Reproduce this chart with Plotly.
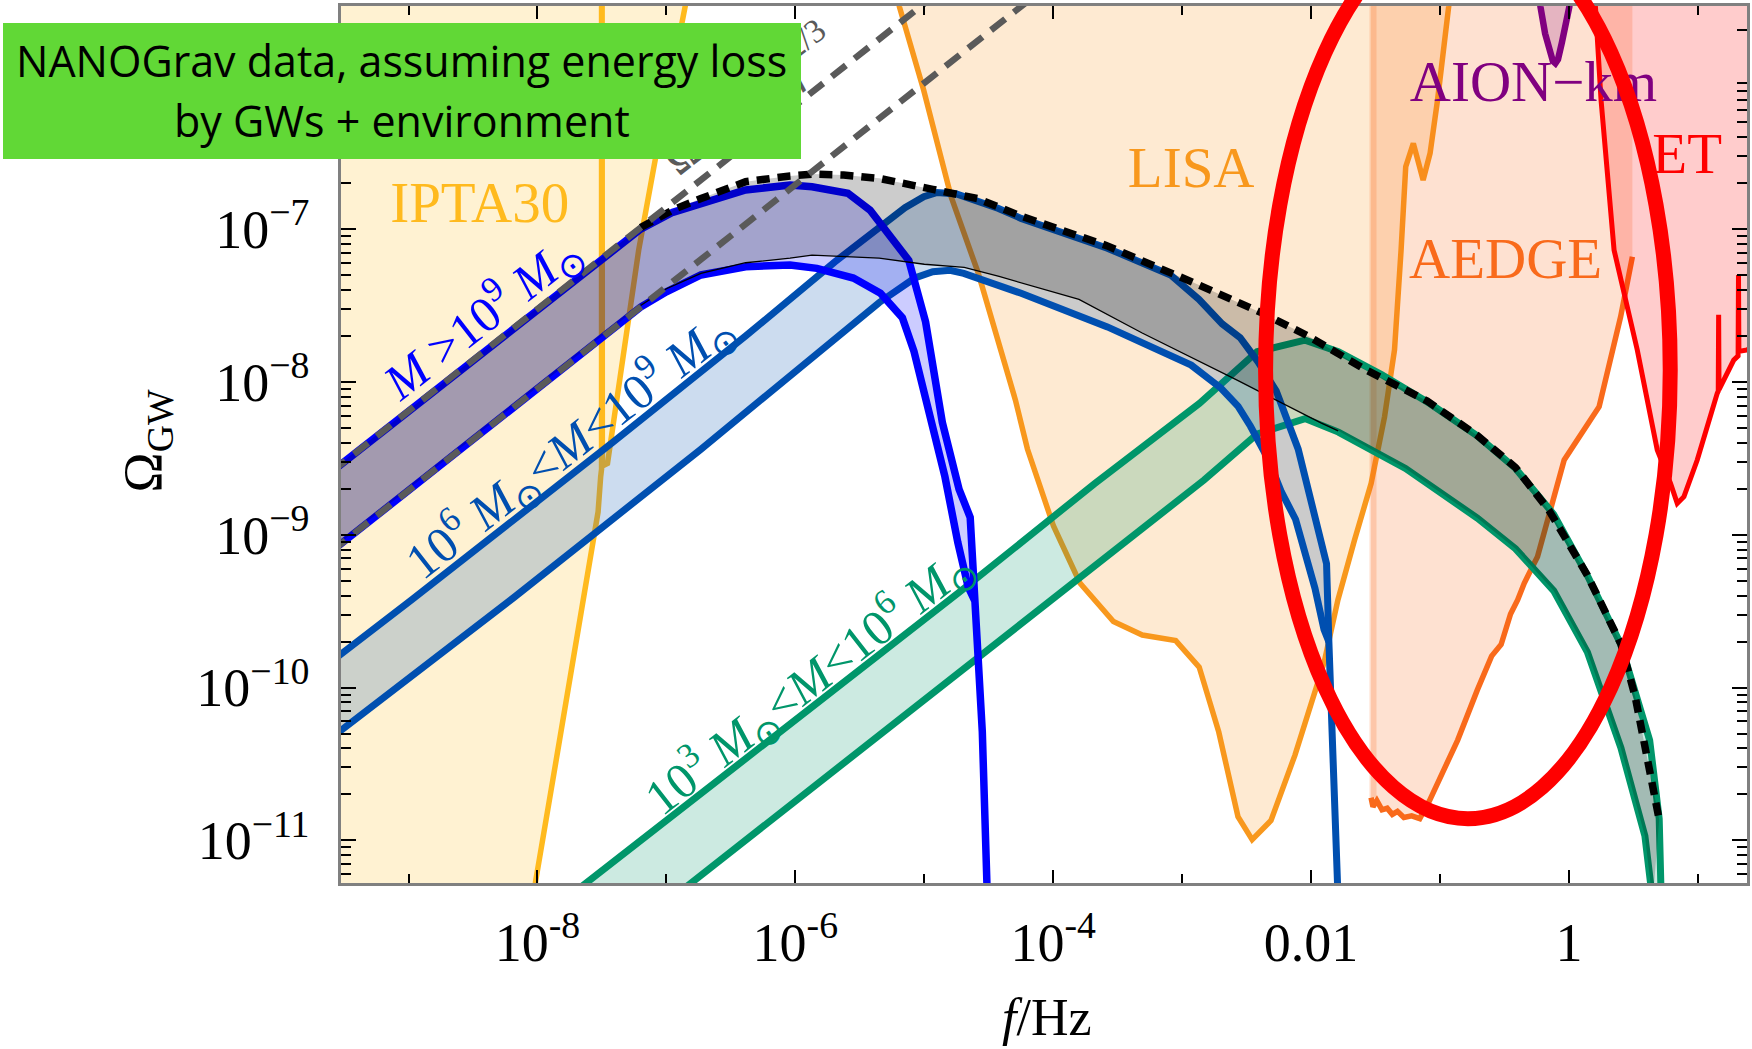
import numpy as np
import plotly.graph_objects as go

# All curves are stored as (log10 f/Hz, log10 Omega_GW) pairs.

# ---- detector sensitivity curves ----
ipta_logf = [-8.03, -8.015, -7.85, -7.65, -7.53, -7.51, -7.503, -7.503, -7.499, -7.497,
             -7.457, -7.215, -7.077, -6.854, -6.80]
ipta_logO = [-11.45, -11.27, -10.45, -9.43, -8.85, -8.62, -8.57, -5.0, -5.0, -8.55,
             -8.533, -7.137, -6.50, -5.54, -5.20]

lisa_logf = [-5.22, -5.193, -5.005, -4.792, -4.582, -4.293, -4.200, -3.998, -3.793, -3.533,
             -3.309, -3.050, -2.868, -2.716, -2.567, -2.457, -2.311, -2.125, -1.900, -1.792,
             -1.663, -1.534, -1.430, -1.353, -1.302, -1.266, -1.207, -1.131, -1.077, -1.019,
             -0.933, -0.92]
lisa_logO = [-5.40, -5.545, -6.090, -6.788, -7.287, -8.119, -8.439, -8.943, -9.316, -9.568,
             -9.656, -9.693, -9.866, -10.291, -10.845, -10.995, -10.870, -10.442, -9.840, -9.427,
             -9.035, -8.664, -8.228, -7.791, -7.137, -6.592, -6.439, -6.679, -6.504, -6.155,
             -5.545, -5.40]

aedge_logf = [-1.535, -1.535, -1.52, -1.49, -1.45, -1.41, -1.37, -1.33, -1.28, -1.22,
              -1.157, -1.083, -0.863, -0.711, -0.600, -0.526, -0.453, -0.398, -0.347, -0.244,
              -0.141, -0.037, 0.234, 0.401, 0.492, 0.492]
aedge_logO = [-5.0, -10.72, -10.78, -10.74, -10.80, -10.79, -10.83, -10.81, -10.85, -10.84,
              -10.858, -10.743, -10.344, -10.017, -9.794, -9.718, -9.519, -9.427, -9.318, -9.144,
              -8.838, -8.511, -8.162, -7.573, -7.181, -5.0]

aion_logf = [-0.235, -0.221, -0.185, -0.150, -0.125, -0.105, -0.085, -0.055, -0.025, 0.003, 0.02]
aion_logO = [-5.30, -5.545, -5.72, -5.85, -5.90, -5.915, -5.89, -5.78, -5.64, -5.545, -5.30]

et_logf = [0.20, 0.205, 0.249, 0.350, 0.530, 0.685, 0.788, 0.840, 0.892, 0.995,
           1.150, 1.158, 1.161, 1.164, 1.278, 1.312, 1.315, 1.318, 1.381, 1.45]
et_logO = [-5.30, -5.54, -6.155, -7.137, -7.791, -8.446, -8.664, -8.795, -8.751, -8.511,
           -8.075, -8.06, -7.56, -8.05, -7.857, -7.83, -7.30, -7.80, -7.791, -7.75]

# ---- SMBH binary bands ----
# M > 1e9 Msun
hi_up_logf = [-9.60, -8.8, -8.1, -7.5, -7.2, -6.95, -6.732, -6.386, -6.041, -5.871,
              -5.592, -5.42, -5.12, -4.99, -4.86, -4.73, -4.644, -4.61, -4.55, -4.51]
hi_up_logO = [-8.59, -8.06, -7.59, -7.19, -7.00, -6.89, -6.831, -6.744, -6.711, -6.723,
              -6.766, -6.876, -7.205, -7.607, -8.265, -8.703, -8.886, -9.43, -10.29, -11.40]
hi_lo_logf = [-9.60, -8.8, -8.1, -7.5, -7.2, -7.0, -6.732, -6.386, -6.041, -5.833,
              -5.55, -5.34, -5.17, -5.08, -4.94, -4.84, -4.74, -4.66, -4.61]
hi_lo_logO = [-9.11, -8.58, -8.11, -7.71, -7.51, -7.41, -7.30, -7.246, -7.235, -7.257,
              -7.32, -7.42, -7.58, -7.80, -8.30, -8.62, -9.05, -9.34, -9.43]

# 1e6 < M < 1e9 Msun
mid_up_logf = [-9.60, -8.978, -7.423, -6.386, -5.695, -5.349, -5.15, -5.004, -4.90, -4.75,
               -4.589, -4.424, -4.249, -3.58, -3.09, -2.87, -2.69, -2.55, -2.41, -2.27,
               -2.10, -1.99, -1.88, -1.862, -1.825, -1.79]
mid_up_logO = [-9.83, -9.427, -8.40, -7.70, -7.215, -6.99, -6.86, -6.788, -6.760, -6.77,
               -6.815, -6.865, -6.93, -7.125, -7.30, -7.46, -7.62, -7.71, -7.87, -8.06,
               -8.44, -8.80, -9.19, -9.70, -10.47, -11.40]
mid_lo_logf = [-9.60, -8.182, -6.732, -5.695, -5.349, -5.073, -4.934, -4.80, -4.694, -4.249,
               -3.58, -2.93, -2.70, -2.566, -2.47, -2.33, -2.23, -2.12, -1.97, -1.90, -1.862]
mid_lo_logO = [-10.33, -9.41, -8.44, -7.72, -7.48, -7.32, -7.279, -7.27, -7.29, -7.42,
               -7.64, -7.89, -8.04, -8.16, -8.29, -8.51, -8.72, -8.90, -9.35, -9.62, -9.70]

# 1e3 < M < 1e6 Msun
lo_up_logf = [-7.70, -4.707, -3.680, -2.865, -2.419, -2.047, -1.788, -1.454, -1.082, -0.711,
              -0.414, -0.118, 0.143, 0.403, 0.626, 0.700, 0.716]
lo_up_logO = [-11.33, -9.362, -8.666, -8.140, -7.802, -7.727, -7.802, -7.952, -8.140, -8.353,
              -8.566, -8.867, -9.267, -9.718, -10.344, -10.858, -11.40]
lo_lo_logf = [-6.90, -3.649, -2.829, -2.419, -2.047, -1.788, -1.268, -0.711, -0.414, -0.118,
              0.143, 0.403, 0.589, 0.65]
lo_lo_logO = [-11.34, -9.187, -8.641, -8.341, -8.240, -8.328, -8.566, -8.891, -9.092, -9.367,
              -9.768, -10.395, -10.971, -11.40]

# total signal
tot_up_logf = [-9.60, -8.8, -8.1, -7.5, -7.2, -6.939, -6.732, -6.386, -6.041, -5.868,
               -5.626, -5.349, -4.934, -4.589, -4.249, -3.58, -2.913, -2.378, -2.022, -1.577,
               -1.10, -0.711, -0.414, -0.155, 0.143, 0.403, 0.514, 0.700]
tot_up_logO = [-8.58, -8.05, -7.58, -7.18, -6.99, -6.87, -6.80, -6.69, -6.652, -6.640,
               -6.646, -6.668, -6.74, -6.80, -6.915, -7.11, -7.35, -7.55, -7.70, -7.92,
               -8.125, -8.35, -8.56, -8.84, -9.265, -9.715, -10.06, -10.865]
tot_lo_logf = [-9.60, -8.8, -8.1, -7.5, -7.2, -7.0, -6.732, -6.386, -6.041, -5.871,
               -5.35, -5.0, -4.69, -4.42, -3.80, -3.31, -2.57, -1.92, -1.79, -1.268,
               -0.711, -0.414, -0.118, 0.143, 0.403, 0.589, 0.65]
tot_lo_logO = [-9.10, -8.57, -8.10, -7.70, -7.50, -7.39, -7.29, -7.22, -7.19, -7.17,
               -7.19, -7.23, -7.25, -7.31, -7.46, -7.68, -7.99, -8.27, -8.32, -8.566,
               -8.891, -9.092, -9.367, -9.768, -10.395, -10.971, -11.40]

# power-law guide lines  Omega = A f^(2/3)
pl_index = 2.0 / 3.0
pl_logA = [-2.19, -2.71]
pl_logf_ends = [[-9.60, -4.80], [-9.60, -3.95]]

# axis ticks
x_tickvals = [1e-8, 1e-6, 1e-4, 1e-2, 1.0]
x_ticktext = ["10<sup>-8</sup>", "10<sup>-6</sup>", "10<sup>-4</sup>", "0.01", "1"]
x_minor = [1e-9, 1e-7, 1e-5, 1e-3, 1e-1, 10.0]
y_tickvals = [1e-11, 1e-10, 1e-9, 1e-8, 1e-7]
y_ticktext = ["10<sup>\u221211</sup>", "10<sup>\u221210</sup>", "10<sup>\u22129</sup>",
              "10<sup>\u22128</sup>", "10<sup>\u22127</sup>"]
y_minor = [k * 10.0 ** n for n in range(-12, -5) for k in range(2, 10)]


def P(a):
    return np.power(10.0, np.asarray(a, dtype=float))


def poly(fu, ou, fl, ol):
    x = list(fu) + list(fl)[::-1]
    y = list(ou) + list(ol)[::-1]
    return P(x), P(y)


SERIF = "Liberation Serif"
fig = go.Figure()


def add_fill(x, y, color):
    fig.add_trace(go.Scatter(x=x, y=y, mode="lines", fill="toself", fillcolor=color,
                             line=dict(width=0, color="rgba(0,0,0,0)"), hoverinfo="skip"))


def add_line(fx, oy, color, width, dash=None):
    fig.add_trace(go.Scatter(x=P(fx), y=P(oy), mode="lines",
                             line=dict(color=color, width=width, dash=dash), hoverinfo="skip"))


# --- sensitivity regions ---
IPTA_C, LISA_C, AEDGE_C, AION_C, ET_C = "#FFBA1E", "#F8981D", "#F96A1B", "#800080", "#FF0000"

add_fill(P([-9.8, -9.8] + ipta_logf), P([-5.0, -11.5] + ipta_logO), "rgba(255,190,30,0.2)")
add_line(ipta_logf, ipta_logO, IPTA_C, 5.5)

add_fill(P(lisa_logf), P(lisa_logO), "rgba(248,152,29,0.2)")
add_line(lisa_logf, lisa_logO, LISA_C, 5.5)

add_fill(P(aedge_logf), P(aedge_logO), "rgba(249,106,27,0.2)")
add_line(aedge_logf[1:-1], aedge_logO[1:-1], AEDGE_C, 5.5)
add_line([aedge_logf[0] + 0.015] * 2, [aedge_logO[1], aedge_logO[0]], "rgba(249,106,27,0.22)", 7)

add_fill(P(aion_logf), P(aion_logO), "rgba(128,0,128,0.2)")
add_line(aion_logf, aion_logO, AION_C, 6.5)

add_fill(P(et_logf + [1.45]), P(et_logO + [-5.3]), "rgba(255,0,0,0.2)")
add_line(et_logf, et_logO, ET_C, 5)

# --- binary population bands ---
GREEN, DBLUE, BLUE = "#00966A", "#004FB0", "#0000FF"

gx, gy = poly(lo_up_logf, lo_up_logO, lo_lo_logf, lo_lo_logO)
add_fill(gx, gy, "rgba(0,150,106,0.2)")
add_line(lo_up_logf, lo_up_logO, GREEN, 7)
add_line(lo_lo_logf, lo_lo_logO, GREEN, 7)

n_mid = mid_up_logf.index(mid_lo_logf[-1])
mx, my = poly(mid_up_logf[:n_mid + 1], mid_up_logO[:n_mid + 1], mid_lo_logf, mid_lo_logO)
add_fill(mx, my, "rgba(0,79,176,0.2)")
add_line(mid_up_logf, mid_up_logO, DBLUE, 7)
add_line(mid_lo_logf, mid_lo_logO, DBLUE, 7)

n_hi = hi_up_logf.index(hi_lo_logf[-1])
hx, hy = poly(hi_up_logf[:n_hi + 1], hi_up_logO[:n_hi + 1], hi_lo_logf, hi_lo_logO)
add_fill(hx, hy, "rgba(0,0,255,0.2)")
add_line(hi_up_logf, hi_up_logO, BLUE, 7.5)
add_line(hi_lo_logf, hi_lo_logO, BLUE, 7.5)

tx, ty = poly(tot_up_logf, tot_up_logO, tot_lo_logf, tot_lo_logO)
add_fill(tx, ty, "rgba(0,0,0,0.2)")
i0 = tot_up_logf.index(-7.2)
add_line(tot_up_logf[i0:], tot_up_logO[i0:], "black", 7.5, dash="13px,8px")
j0 = tot_lo_logf.index(-7.2)
j1 = tot_lo_logf.index(-1.79)
add_line(tot_lo_logf[j0:j1 + 1], tot_lo_logO[j0:j1 + 1], "black", 1.3)

# --- f^(2/3) guide lines ---
for logA, ends in zip(pl_logA, pl_logf_ends):
    add_line(ends, [logA + pl_index * e for e in ends], "#5A5A5A", 6.5, dash="18px,11px")

# --- detector names ---
det_names = ["IPTA30", "LISA", "AION\u2212km", "AEDGE", "ET"]
det_logf = [-8.448, -2.930, -0.275, -0.491, 0.917]
det_logO = [-6.862, -6.633, -6.070, -7.228, -6.541]
det_cols = ["#FFBA1E", "#F8981D", "#800080", "#F96A1B", "#FF0000"]
for name, lf, lo, c in zip(det_names, det_logf, det_logO, det_cols):
    fig.add_trace(go.Scatter(x=P([lf]), y=P([lo]), mode="text", text=[name],
                             textposition="middle center",
                             textfont=dict(family=SERIF, size=57, color=c), hoverinfo="skip"))

# --- annotations ---
ann = []
band_labels = [
    ("<i>M</i> >10<sup>9</sup> <i>M</i><sub>\u2299</sub>", 0.1000, 0.645, BLUE),
    ("10<sup>6</sup> <i>M</i><sub>\u2299</sub>&lt;<i>M</i>&lt;10<sup>9</sup> <i>M</i><sub>\u2299</sub>",
     0.1625, 0.4994, DBLUE),
    ("10<sup>3</sup> <i>M</i><sub>\u2299</sub>&lt;<i>M</i>&lt;10<sup>6</sup> <i>M</i><sub>\u2299</sub>",
     0.3329, 0.2292, GREEN),
]
for txt, x, y, c in band_labels:
    ann.append(dict(text=txt, x=x, y=y, xref="paper", yref="paper", showarrow=False,
                    textangle=-38, xanchor="center", yanchor="middle",
                    font=dict(family=SERIF, size=50, color=c)))

ann.append(dict(text="\u03a9<sub>GW</sub> \u221d <i>f</i><sup>2/3</sup>", x=0.2903, y=0.8928,
                xref="paper", yref="paper", showarrow=False, textangle=-38,
                xanchor="center", yanchor="middle",
                font=dict(family=SERIF, size=48, color="#5A5A5A")))

# green caption box
ann.append(dict(text=" ", x=0.0433, y=0.9031, xref="paper", yref="paper", showarrow=False,
                width=798, height=136, bgcolor="#61D836", borderpad=0, borderwidth=0,
                xanchor="center", yanchor="middle", font=dict(size=10)))
ann.append(dict(text="NANOGrav data, assuming energy loss", x=0.0433, y=0.9373,
                xref="paper", yref="paper", showarrow=False, xanchor="center", yanchor="middle",
                font=dict(family="Open Sans", size=43, color="black")))
ann.append(dict(text="by GWs + environment", x=0.0433, y=0.8689,
                xref="paper", yref="paper", showarrow=False, xanchor="center", yanchor="middle",
                font=dict(family="Open Sans", size=43, color="black")))

# axis titles
ann.append(dict(text="\u03a9<sub>GW</sub>", x=-0.1377, y=0.504, xref="paper", yref="paper",
                showarrow=False, textangle=-90, xanchor="center", yanchor="middle",
                font=dict(family=SERIF, size=54, color="black")))
ann.append(dict(text="<i>f</i>/Hz", x=0.5018, y=-0.1535, xref="paper", yref="paper",
                showarrow=False, xanchor="center", yanchor="middle",
                font=dict(family=SERIF, size=52, color="black")))

fig.update_layout(
    width=1752, height=1049,
    margin=dict(l=341, r=2, t=6, b=166),
    paper_bgcolor="white", plot_bgcolor="white",
    showlegend=False,
    font=dict(family=SERIF, color="black"),
    annotations=ann,
    shapes=[dict(type="circle", xref="paper", yref="paper",
                 x0=0.6576, x1=0.9454, y0=0.0734, y1=1.0965,
                 line=dict(color="#FF0000", width=15), layer="above")],
)

axis_common = dict(type="log", showgrid=False, zeroline=False, showline=True,
                   linecolor="#808080", linewidth=2.5, mirror="ticks", ticks="inside",
                   tickwidth=2, tickcolor="black", tickfont=dict(family=SERIF, size=54, color="black"))

fig.update_xaxes(**axis_common, range=[-9.524, 1.381], tickvals=x_tickvals, ticktext=x_ticktext,
                 ticklen=13, ticklabelstandoff=10,
                 minor=dict(tickvals=x_minor, ticks="inside", ticklen=9, tickwidth=2, tickcolor="black"))
fig.update_yaxes(**axis_common, range=[-11.279, -5.54], tickvals=y_tickvals, ticktext=y_ticktext,
                 ticklen=15, ticklabelstandoff=18,
                 minor=dict(tickvals=y_minor, ticks="inside", ticklen=10, tickwidth=2, tickcolor="black"))

fig.write_html("out.html")
